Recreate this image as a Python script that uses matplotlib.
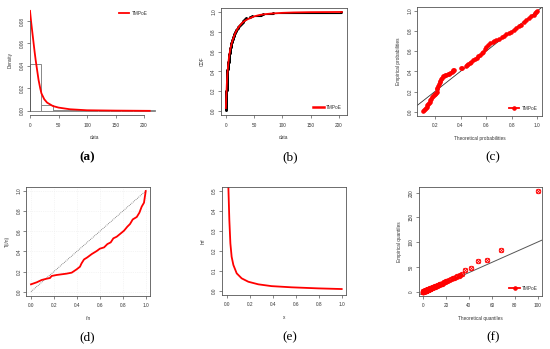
import numpy as np
import matplotlib
matplotlib.use("Agg")
import matplotlib.pyplot as plt
from matplotlib.lines import Line2D

plt.rcParams['font.family'] = ['Liberation Sans', 'DejaVu Sans']

# ---------------- data ----------------
# sorted observations (n = 100)
data = [0.2, 0.25, 0.3, 0.35, 0.4, 0.45, 0.5, 0.55, 0.6, 0.65,
        0.7, 0.8, 0.9, 1.0, 1.05, 1.1, 1.2, 1.3, 1.4, 1.45,
        1.5, 1.6, 1.7, 1.75, 1.8, 1.9, 2.0, 2.1, 2.2, 2.25,
        2.3, 2.4, 2.5, 2.55, 2.6, 2.7, 2.75, 2.8, 2.9, 3.0,
        3.2, 3.4, 3.6, 3.8, 4.0, 4.2, 4.4, 4.6, 4.8, 5.0,
        5.2, 5.4, 5.6, 5.8, 6.0, 6.2, 6.4, 6.6, 6.8, 7.0,
        7.3, 7.7, 8.1, 8.5, 8.9, 9.3, 9.6, 9.9, 10.2, 10.6,
        11.2, 11.8, 12.4, 13.0, 13.6, 14.2, 14.8, 15.4, 16.0, 16.5,
        17.5, 18.6, 19.9, 21.0, 22.0, 23.5, 25.0, 27.0, 28.5, 30.0,
        31.0, 32.5, 33.5, 35.0, 43.0, 47.0, 62.0, 65.0, 84.0, 203.0]
hist_bins = [0, 20, 40, 60, 80, 100, 120, 140, 160, 180, 200, 220]

# (a) fitted density
pdf_x = [0, 2, 5, 8, 10, 12, 15, 18, 20, 25, 30, 40, 50, 70, 100, 150, 210]
pdf_y = [0.089, 0.079, 0.066, 0.053, 0.045, 0.038, 0.0276, 0.020, 0.0157,
         0.0104, 0.0074, 0.0044, 0.0030, 0.0015, 0.0006, 0.0003, 0.0001]

# (b) fitted CDF
cdf_x = [0.3, 1, 2, 3, 4, 5, 6, 8, 10, 12, 15, 18, 22, 26, 30, 35, 40, 50,
         60, 70, 80, 100, 120, 150, 180, 205]
cdf_y = [0.03, 0.14, 0.27, 0.37, 0.44, 0.50, 0.55, 0.62, 0.67, 0.71, 0.76,
         0.80, 0.84, 0.87, 0.895, 0.915, 0.93, 0.955, 0.97, 0.978, 0.984,
         0.991, 0.995, 0.998, 0.999, 1.0]

# (c) PP plot
pp_theo = [0.109, 0.115, 0.12, 0.127, 0.135, 0.14, 0.148, 0.155, 0.16, 0.165,
           0.172, 0.178, 0.183, 0.19, 0.197, 0.203, 0.208, 0.213,
           0.217, 0.22, 0.224, 0.23, 0.236, 0.242, 0.248, 0.255, 0.262, 0.27,
           0.28, 0.29, 0.30, 0.31, 0.32, 0.33, 0.338, 0.345, 0.35,
           0.40, 0.41, 0.44, 0.45, 0.46, 0.473, 0.485, 0.50, 0.51, 0.525,
           0.54, 0.55, 0.565, 0.577, 0.588, 0.60, 0.615, 0.63, 0.65, 0.665,
           0.68, 0.70, 0.72, 0.74, 0.758, 0.777, 0.797, 0.815, 0.836, 0.855,
           0.875, 0.895, 0.914, 0.935, 0.953, 0.97, 0.985, 0.992, 1.0]
pp_emp = [0.005, 0.02, 0.03, 0.04, 0.05, 0.065, 0.08, 0.09, 0.10, 0.115,
          0.13, 0.145, 0.155, 0.165, 0.175, 0.18, 0.19, 0.20,
          0.22, 0.235, 0.25, 0.27, 0.29, 0.305, 0.32, 0.335, 0.35, 0.357,
          0.363, 0.368, 0.373, 0.378, 0.383, 0.39, 0.40, 0.41, 0.416,
          0.43, 0.438, 0.455, 0.465, 0.475, 0.487, 0.495, 0.51, 0.52, 0.535,
          0.55, 0.563, 0.58, 0.596, 0.62, 0.645, 0.665, 0.685, 0.695, 0.703,
          0.71, 0.724, 0.738, 0.753, 0.768, 0.78, 0.795, 0.81, 0.828, 0.845,
          0.86, 0.885, 0.91, 0.925, 0.944, 0.96, 0.975, 0.985, 1.0]

# (d) TTT plot
ttt_x = [0.0, 0.05, 0.093, 0.137, 0.166, 0.18, 0.224, 0.31, 0.355, 0.398,
         0.427, 0.44, 0.462, 0.49, 0.53, 0.573, 0.60, 0.637, 0.666, 0.695,
         0.718, 0.747, 0.776, 0.811, 0.84, 0.863, 0.887, 0.922, 0.945,
         0.965, 0.985, 1.0]
ttt_y = [0.073, 0.093, 0.116, 0.129, 0.136, 0.156, 0.166, 0.179, 0.189,
         0.222, 0.248, 0.28, 0.32, 0.34, 0.374, 0.404, 0.427, 0.44, 0.473,
         0.49, 0.53, 0.546, 0.573, 0.606, 0.646, 0.672, 0.718, 0.742, 0.785,
         0.845, 0.884, 1.0]

# (e) hazard rate function
hrf_x = [0.0135, 0.0145, 0.023, 0.032, 0.043, 0.058, 0.087, 0.13, 0.188,
         0.275, 0.39, 0.565, 0.797, 1.0]
hrf_y = [0.56, 0.52, 0.354, 0.237, 0.17, 0.129, 0.087, 0.062, 0.045,
         0.032, 0.023, 0.017, 0.0117, 0.0084]

# (f) QQ plot: theoretical quantiles for the sorted data
qq_theo = [0.2, 0.24, 0.29, 0.34, 0.39, 0.44, 0.49, 0.53, 0.58, 0.63,
           0.68, 0.78, 0.87, 0.97, 1.02, 1.07, 1.16, 1.26, 1.36, 1.41,
           1.46, 1.55, 1.65, 1.7, 1.75, 1.84, 1.94, 2.04, 2.13, 2.18,
           2.23, 2.33, 2.43, 2.47, 2.52, 2.62, 2.67, 2.72, 2.81, 2.91,
           3.1, 3.3, 3.5, 3.7, 3.9, 4.1, 4.3, 4.5, 4.7, 4.9,
           5.1, 5.3, 5.5, 5.7, 5.9, 6.1, 6.3, 6.5, 6.7, 6.9,
           7.2, 7.6, 8.0, 8.4, 8.8, 9.2, 9.5, 9.8, 10.1, 10.5,
           11.0, 11.6, 12.2, 12.8, 13.4, 14.0, 14.6, 15.2, 15.8, 16.3,
           17.2, 18.2, 19.4, 20.4, 21.3, 22.7, 24.1, 25.9, 27.3, 28.7,
           29.7, 31.1, 32.3, 34.0, 37.0, 42.0, 48.0, 56.0, 68.0, 100.0]
qq_line_intercept = -2.6
qq_line_slope = 1.03

labels = ['(a)', '(b)', '(c)', '(d)', '(e)', '(f)']

# ---------------- figure ----------------
W, H = 550, 349
fig = plt.figure(figsize=(W / 100, H / 100), dpi=100)


def add_axes(l, t, r, b):
    return fig.add_axes([l / W, 1 - b / H, (r - l) / W, (b - t) / H])


FS = 3.4
TXT = '#333333'
FRAME = '#555555'
RED = '#ff0000'


def style(ax, box=True):
    for s in ax.spines.values():
        s.set_color(FRAME)
        s.set_linewidth(0.6)
        s.set_visible(box)
    ax.tick_params(axis='both', length=2, width=0.5, color=FRAME,
                   labelsize=FS, labelcolor=TXT)
    ax.tick_params(axis='x', pad=3.5)
    ax.tick_params(axis='y', pad=1.6)
    for lab in ax.get_yticklabels():
        lab.set_rotation(90)
        lab.set_va('center')


def labels_xy(ax, xl, yl):
    ax.set_xlabel(xl, fontsize=FS, color=TXT, labelpad=5.5)
    ax.set_ylabel(yl, fontsize=FS, color=TXT, labelpad=5)


def leg(ax, handle, loc, anchor):
    ax.legend([handle], ['TMPoE'], loc=loc, bbox_to_anchor=anchor,
              frameon=False, fontsize=FS, handlelength=2.2,
              handletextpad=0.5, borderaxespad=0, labelcolor=TXT)


# (a) histogram + density
ax = add_axes(30, 5.7, 158.3, 115)
ax.hist(data, bins=hist_bins, density=True, histtype='bar',
        facecolor='none', edgecolor='#888888', linewidth=0.7)
ax.plot(pdf_x, pdf_y, color=RED, lw=1.3)
ax.set_xlim(0, 225)
ax.set_ylim(-0.0036, 0.0936)
ax.set_xticks([0, 50, 100, 150, 200])
ax.set_yticks([0.00, 0.02, 0.04, 0.06, 0.08])
ax.set_yticklabels(['0.00', '0.02', '0.04', '0.06', '0.08'])
style(ax, box=False)
ax.spines['left'].set_visible(True)
ax.spines['bottom'].set_visible(True)
ax.spines['left'].set_bounds(0, 0.08)
ax.spines['bottom'].set_bounds(0, 200)
labels_xy(ax, 'data', 'Density')
leg(ax, Line2D([], [], color=RED, lw=1.3), 'upper right', (0.93, 0.97))

# (b) CDF
ax = add_axes(221.2, 8, 346.5, 115)
n = len(data)
ecdf_y = [(i + 1) / n for i in range(n)]
ax.step(data, ecdf_y, where='post', color='black', lw=0.8)
ax.plot(data, ecdf_y, 'o', color='black', ms=1.1)
ax.plot(cdf_x, cdf_y, color=RED, lw=1.3)
ax.set_xlim(-7.9, 213.2)
ax.set_ylim(-0.04, 1.04)
ax.set_xticks([0, 50, 100, 150, 200])
ax.set_yticks([0.0, 0.2, 0.4, 0.6, 0.8, 1.0])
ax.set_yticklabels(['0.0', '0.2', '0.4', '0.6', '0.8', '1.0'])
style(ax)
labels_xy(ax, 'data', 'CDF')
leg(ax, Line2D([], [], color=RED, lw=1.8), 'lower right', (0.98, 0.03))

# (c) PP plot
ax = add_axes(417.5, 6.8, 542, 115.7)
ax.axline((0, 0), slope=1, color='#333333', lw=0.6)
ax.plot(pp_theo, pp_emp, 'o', color=RED, ms=2.3, mec=RED)
ax.set_xlim(0.064, 1.036)
ax.set_ylim(-0.04, 1.04)
ax.set_xticks([0.2, 0.4, 0.6, 0.8, 1.0])
ax.set_xticklabels(['0.2', '0.4', '0.6', '0.8', '1.0'])
ax.set_yticks([0.0, 0.2, 0.4, 0.6, 0.8, 1.0])
ax.set_yticklabels(['0.0', '0.2', '0.4', '0.6', '0.8', '1.0'])
style(ax)
labels_xy(ax, 'Theoretical probabilities', 'Empirical probabilities')
leg(ax, Line2D([], [], color=RED, lw=1.3, marker='o', ms=2.3),
    'lower right', (0.98, 0.03))

# (d) TTT plot
ax = add_axes(26.4, 187, 150.3, 295.7)
ax.grid(True, color='#ececec', ls=':', lw=0.5)
ax.set_axisbelow(True)
ax.plot([0, 1], [0, 1], color='#666666', ls=(0, (1, 1.2)), lw=0.6)
ax.plot(ttt_x, ttt_y, color=RED, lw=1.3)
ax.set_xlim(-0.04, 1.04)
ax.set_ylim(-0.04, 1.04)
ticks01 = [0.0, 0.2, 0.4, 0.6, 0.8, 1.0]
tl01 = ['0.0', '0.2', '0.4', '0.6', '0.8', '1.0']
ax.set_xticks(ticks01)
ax.set_xticklabels(tl01)
ax.set_yticks(ticks01)
ax.set_yticklabels(tl01)
style(ax)
labels_xy(ax, 'i/n', 'T(i/n)')

# (e) hrf
ax = add_axes(222.1, 187, 346.3, 294.7)
ax.plot(hrf_x, hrf_y, color=RED, lw=1.3)
ax.set_xlim(-0.04, 1.04)
ax.set_ylim(-0.02, 0.52)
ax.set_xticks(ticks01)
ax.set_xticklabels(tl01)
ax.set_yticks([0.0, 0.1, 0.2, 0.3, 0.4, 0.5])
ax.set_yticklabels(['0.0', '0.1', '0.2', '0.3', '0.4', '0.5'])
style(ax)
labels_xy(ax, 'x', 'hrf')

# (f) QQ plot
ax = add_axes(418.8, 187.3, 542.3, 295.7)
ax.axline((0, qq_line_intercept), slope=qq_line_slope, color='#555555', lw=0.7)
ax.plot(qq_theo, data, 'o', mfc='none', mec=RED, ms=3.2, mew=0.7)
ax.plot(qq_theo, data, 'x', color=RED, ms=2.2, mew=0.6)
ax.set_xlim(-3.7, 104)
ax.set_ylim(-8.1, 211)
ax.set_xticks([0, 20, 40, 60, 80, 100])
ax.set_yticks([0, 50, 100, 150, 200])
style(ax)
labels_xy(ax, 'Theoretical quantiles', 'Empirical quantiles')
leg(ax, Line2D([], [], color=RED, lw=1.3, marker='o', ms=2.3),
    'lower right', (0.98, 0.03))

# sub-figure labels
lab_pos = [(87, 157), (290, 157), (492.7, 157),
           (87, 337), (290, 337), (492.7, 337)]
for i, (lab, (px, py)) in enumerate(zip(labels, lab_pos)):
    fig.text(px / W, 1 - py / H, lab, ha='center', va='center',
             fontsize=9.5, family=['Liberation Serif', 'DejaVu Serif'],
             weight='bold' if i == 0 else 'normal', color='black')

fig.savefig('out.png', dpi=100)
